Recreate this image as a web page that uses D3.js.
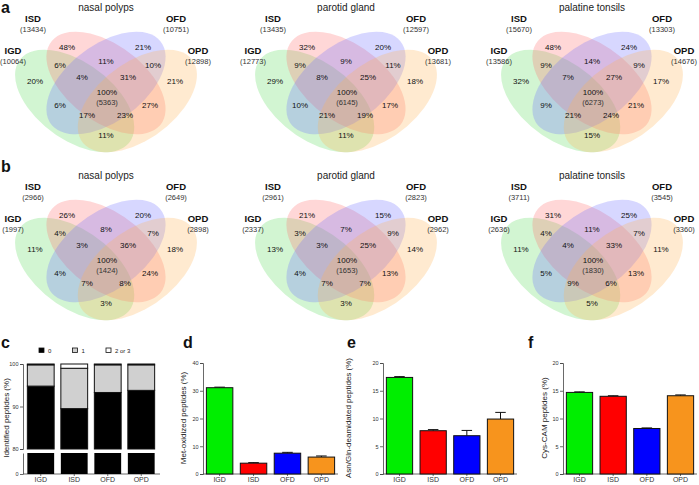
<!DOCTYPE html>
<html><head><meta charset="utf-8">
<script src="https://cdn.jsdelivr.net/npm/d3@7"></script>
<style>
body{margin:0;background:#fff;}
svg{font-family:"Liberation Sans",Arial,Helvetica,sans-serif;}
</style></head><body>
<svg id="chart" width="699" height="485"></svg>
<script>
// ---------------- DATA ----------------
const sets = ["IGD","ISD","OFD","OPD"];
const tissues = ["nasal polyps","parotid gland","palatine tonsils"];
// region order: ISDonly, OFDonly, ISD∩OFD, IGD∩ISD, OFD∩OPD, IGDonly, IGD∩ISD∩OFD, ISD∩OFD∩OPD, OPDonly, all, IGD∩OFD, ISD∩OPD, IGD∩OFD∩OPD, IGD∩ISD∩OPD, IGD∩OPD
const regionKeys = ["I","F","IF","GI","FP","G","GIF","IFP","P","ALL","GF","IP","GFP","GIP","GP"];
const aCounts = [[10064,13434,10751,12898],[12773,13435,12597,13681],[13586,15670,13303,14676]];
const aPct = [
  [48,21,11,6,10,20,4,31,21,100,6,27,17,23,11],
  [32,20,9,9,11,29,8,25,18,100,10,17,21,19,11],
  [48,24,14,9,9,32,7,27,17,100,9,21,21,24,15]];
const aCore = [5363,6145,6273];
const bCounts = [[1997,2966,2649,2898],[2337,2961,2823,2962],[2636,3711,3545,3360]];
const bPct = [
  [26,20,8,4,7,11,3,36,18,100,4,24,7,8,3],
  [21,15,7,3,9,13,3,25,14,100,4,13,7,7,3],
  [31,25,11,4,7,11,4,33,11,100,5,13,9,6,5]];
const bCore = [1424,1653,1830];

const groups = ["IGD","ISD","OFD","OPD"];
const barColors = ["#00ee00","#ff0000","#0000ff","#f7941d"];
// panel c: modification counts (%)
const cZero = [94.8, 89.5, 93.3, 93.8];
const cOne  = [5.0, 9.5, 6.5, 6.0];
const cTwo  = [0.2, 1.0, 0.2, 0.2];
// panels d-f (mean, sem)
const metOx = [31.1, 3.9, 7.5, 6.1];
const metOxErr = [0.2, 0.2, 0.3, 0.4];
const deam = [17.4, 7.8, 6.9, 9.9];
const deamErr = [0.15, 0.2, 0.95, 1.2];
const cys = [14.7, 14.0, 8.2, 14.1];
const cysErr = [0.1, 0.1, 0.1, 0.15];

// ---------------- DRAW ----------------
const svg = d3.select("#chart");
const vennColors = ["#5fdc5f","#ff6f6f","#7070ff","#ffb455"]; // IGD, ISD, OFD, OPD
const ell = [
  {set:0, cx:0.35, cy:0.47, rot:135},
  {set:1, cx:0.50, cy:0.57, rot:135},
  {set:2, cx:0.50, cy:0.57, rot:45},
  {set:3, cx:0.65, cy:0.47, rot:45}];
const regionOff = {I:[-39,-36],F:[37,-36],IF:[0,-22],GI:[-46,-18],FP:[47,-18],G:[-71,-2],GIF:[-24,-6],IFP:[22,-6],P:[69,-2],ALL:[1,9],GF:[-46,22],IP:[44,22],GFP:[-19,32],GIP:[19,32],GP:[0,52]};
const setLabelOff = [[-93,-33],[-73,-65],[70,-65],[92,-33]];
const xCenters = [106,346,592];

function drawVenn(bx, by, title, counts, pct, core){
  const g = svg.append("g");
  const sx = d3.scaleLinear().domain([0,1]).range([bx-0.5*209, bx+0.5*209]);
  const sy = d3.scaleLinear().domain([0,1]).range([by+0.57*180, by-0.43*180]);
  const eg = g.append("g").attr("transform",`translate(${sx(0)},${sy(0)}) scale(209,-180)`);
  eg.selectAll("ellipse").data(ell).join("ellipse")
    .attr("cx",d=>d.cx).attr("cy",d=>d.cy).attr("rx",0.35).attr("ry",0.2)
    .attr("transform",d=>`rotate(${d.rot},${d.cx},${d.cy})`)
    .attr("fill",d=>vennColors[d.set]).attr("fill-opacity",0.28);
  g.append("text").attr("x",bx).attr("y",by-76).attr("text-anchor","middle")
    .attr("dominant-baseline","central").attr("font-size",10).attr("fill","#222").text(title);
  sets.forEach((s,i)=>{
    const o = setLabelOff[i];
    g.append("text").attr("x",bx+o[0]).attr("y",by+o[1]).attr("text-anchor","middle")
      .attr("dominant-baseline","central").attr("font-size",9.5).attr("font-weight","bold").attr("fill","#111").text(s);
    g.append("text").attr("x",bx+o[0]).attr("y",by+o[1]+11).attr("text-anchor","middle")
      .attr("dominant-baseline","central").attr("font-size",7.5).attr("fill","#333").text(`(${counts[i]})`);
  });
  regionKeys.forEach((k,i)=>{
    const o = regionOff[k];
    g.append("text").attr("x",bx+o[0]).attr("y",by+o[1]).attr("text-anchor","middle")
      .attr("dominant-baseline","central").attr("font-size",8).attr("fill","#111").text(pct[i]+"%");
  });
  g.append("text").attr("x",bx+1).attr("y",by+19).attr("text-anchor","middle")
    .attr("dominant-baseline","central").attr("font-size",7.5).attr("fill","#333").text(`(${core})`);
}
tissues.forEach((t,i)=>drawVenn(xCenters[i],83,t,aCounts[i],aPct[i],aCore[i]));
tissues.forEach((t,i)=>drawVenn(xCenters[i],251,t,bCounts[i],bPct[i],bCore[i]));

function panelLetter(x,y,t){
  svg.append("text").attr("x",x).attr("y",y).attr("font-size",16).attr("font-weight","bold").attr("fill","#111").text(t);
}
panelLetter(1,13,"a"); panelLetter(1,172,"b");
panelLetter(1,348,"c"); panelLetter(183,348,"d"); panelLetter(347,348,"e"); panelLetter(528,348,"f");

const BASE = 474;
function styleAxis(ax){
  ax.select(".domain").attr("stroke","#444").attr("stroke-width",0.8);
  ax.selectAll(".tick line").attr("stroke","#444").attr("stroke-width",0.8);
  ax.selectAll(".tick text").attr("fill","#333");
}
function yTitle(x,y,t){
  svg.append("text").attr("transform",`translate(${x},${y}) rotate(-90)`).attr("text-anchor","middle")
    .attr("font-size",8).attr("fill","#222").text(t);
}
function xAxis(g,x,x0,x1){
  const xa = g.append("g").attr("transform",`translate(0,${BASE})`).call(d3.axisBottom(x).tickSize(2).tickSizeOuter(0).tickPadding(1));
  xa.selectAll("text").attr("font-size",7);
  styleAxis(xa);
  xa.select(".domain").attr("d",`M${x0},0H${x1}`);
}

// bar panels d-f
function barPanel(x0,x1,ymax,vals,errs,title,tx){
  const x = d3.scaleBand().domain(groups).range([x0,x1]).paddingInner(0.22).paddingOuter(0.1);
  const y = d3.scaleLinear().domain([0,ymax]).range([BASE,363]);
  const g = svg.append("g");
  const ya = g.append("g").attr("transform",`translate(${x0},0)`)
    .call(d3.axisLeft(y).ticks(4).tickSize(3).tickPadding(1.5));
  ya.selectAll("text").attr("font-size",5.5);
  styleAxis(ya);
  xAxis(g,x,x0,x1);
  g.selectAll("line.err").data(groups).join("line").attr("class","err")
    .attr("x1",d=>x(d)+x.bandwidth()/2).attr("x2",d=>x(d)+x.bandwidth()/2)
    .attr("y1",(d,i)=>y(vals[i])).attr("y2",(d,i)=>y(vals[i]+errs[i])).attr("stroke","#111").attr("stroke-width",1);
  g.selectAll("line.cap").data(groups).join("line").attr("class","cap")
    .attr("x1",d=>x(d)+x.bandwidth()*0.3).attr("x2",d=>x(d)+x.bandwidth()*0.7)
    .attr("y1",(d,i)=>y(vals[i]+errs[i])).attr("y2",(d,i)=>y(vals[i]+errs[i])).attr("stroke","#111").attr("stroke-width",1);
  g.selectAll("rect").data(groups).join("rect")
    .attr("x",d=>x(d)).attr("width",x.bandwidth())
    .attr("y",(d,i)=>y(vals[i])).attr("height",(d,i)=>BASE-y(vals[i]))
    .attr("fill",(d,i)=>barColors[i]).attr("stroke","#111").attr("stroke-width",1);
  yTitle(tx,418,title);
}
barPanel(203,338,40,metOx,metOxErr,"Met-oxidized peptides (%)",186);
barPanel(383,517,20,deam,deamErr,"Asn/Gln-deamidated peptides (%)",351);
barPanel(563,697,20,cys,cysErr,"Cys-CAM peptides (%)",547);

// panel c (broken axis)
(function(){
  const x = d3.scaleBand().domain(groups).range([24,158]).paddingInner(0.2).paddingOuter(0.1);
  const yU = d3.scaleLinear().domain([80,100]).range([449,364]);
  const yL = d3.scaleLinear().domain([0,80]).range([BASE,453]);
  const g = svg.append("g");
  const a1 = g.append("g").attr("transform","translate(23,0)").call(d3.axisLeft(yU).tickValues([80,90,100]).tickSize(3).tickPadding(1.5));
  a1.selectAll("text").attr("font-size",5.5); styleAxis(a1);
  const a2 = g.append("g").attr("transform","translate(23,0)").call(d3.axisLeft(yL).tickValues([0]).tickSize(3).tickPadding(1.5).tickSizeOuter(0));
  a2.selectAll("text").attr("font-size",5.5); styleAxis(a2);
  xAxis(g,x,23,160);
  groups.forEach((gname,i)=>{
    const bx = x(gname), w = x.bandwidth();
    g.append("rect").attr("x",bx).attr("width",w).attr("y",yL(80)).attr("height",yL(0)-yL(80)).attr("fill","#000");
    const segs = [[80,cZero[i],"#000"],[cZero[i],cZero[i]+cOne[i],"#d0d0d0"],[cZero[i]+cOne[i],cZero[i]+cOne[i]+cTwo[i],"#fff"]];
    segs.forEach(s=>{
      g.append("rect").attr("x",bx).attr("width",w).attr("y",yU(s[1])).attr("height",yU(s[0])-yU(s[1]))
        .attr("fill",s[2]).attr("stroke","#111").attr("stroke-width",1);
    });
  });
  yTitle(9,418,"Identified peptides (%)");
  const leg = [["0","#000"],["1","#d0d0d0"],["2 or 3","#fff"]];
  leg.forEach((l,i)=>{
    const lx = 39+i*33.5;
    g.append("rect").attr("x",lx).attr("y",348).attr("width",5).attr("height",4.5).attr("fill",l[1]).attr("stroke","#111").attr("stroke-width",0.8);
    g.append("text").attr("x",lx+9).attr("y",352.5).attr("font-size",6).attr("fill","#222").text(l[0]);
  });
})();
</script>
</body></html>
